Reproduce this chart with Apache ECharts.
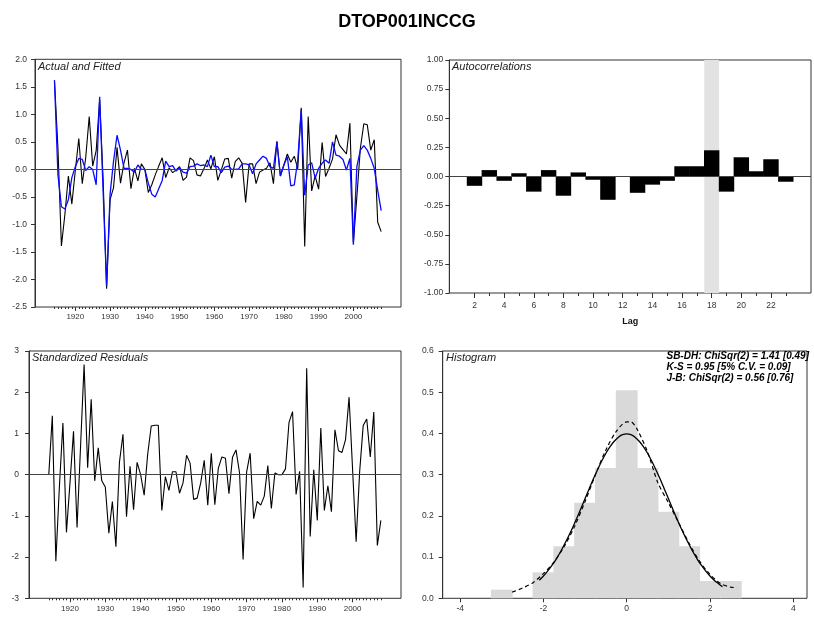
<!DOCTYPE html>
<html><head><meta charset="utf-8">
<script src="https://cdn.jsdelivr.net/npm/echarts@6/dist/echarts.min.js"></script>
<style>html,body{margin:0;padding:0;background:#fff}#c{width:814px;height:618px}</style>
</head><body><div id="c"></div>
<script>
// ---------- data ----------
const startYear = 1914;
const actual = [
 1.62, 0.39, -1.39, -0.82, -0.12, -0.63, -0.02, 0.56, -0.26, 0.22,
 0.96, 0.06, 0.34, 1.27, -0.18, -2.17, -0.55, -0.33, 0.40, -0.25,
 0.12, 0.35, -0.35, 0.02, -0.21, 0.10, 0.00, -0.42, -0.28, -0.10,
 0.06, 0.21, -0.15, 0.03, -0.06, -0.01, 0.05, -0.20, -0.14, 0.21,
 0.16, -0.10, -0.12, 0.01, 0.17, 0.01, 0.23, -0.20, -0.01, 0.19,
 0.20, -0.16, 0.14, 0.21, 0.11, -0.60, 0.10, 0.10, -0.26, -0.05,
 -0.01, 0.02, 0.12, -0.26, 0.51, -0.12, 0.08, 0.28, 0.13, 0.24,
 0.01, 1.12, -1.40, 0.96, -0.39, -0.12, -0.36, 0.49, -0.13, 0.02,
 0.19, 0.63, 0.44, 0.36, 0.28, 0.84, -1.33, -0.50, 0.38, 0.83,
 0.81, 0.35, 0.54, -0.96, -1.13];
const fitted = [
 1.62, -0.10, -0.68, -0.72, -0.55, -0.15, 0.05, 0.20, 0.18, -0.02,
 0.05, 0.00, -0.28, 1.32, -0.40, -2.12, -0.45, 0.15, 0.62, 0.35,
 0.02, 0.02, 0.00, -0.05, 0.08, 0.00, 0.00, -0.25, -0.45, -0.50,
 -0.35, -0.20, 0.15, 0.05, 0.07, -0.03, 0.03, -0.05, -0.07, 0.05,
 0.06, 0.10, 0.07, 0.08, 0.05, 0.26, 0.05, 0.05, -0.06, 0.04,
 0.06, 0.00, 0.00, 0.01, 0.10, 0.10, 0.08, -0.08, 0.10, 0.17,
 0.24, 0.20, 0.05, 0.02, 0.50, -0.12, 0.08, 0.23, -0.30, -0.28,
 0.17, 1.09, -0.47, 0.08, 0.12, -0.16, 0.02, 0.11, 0.17, 0.11,
 0.50, 0.26, 0.24, 0.18, -0.01, 0.20, -1.37, 0.05, 0.35, 0.43,
 0.35, 0.20, 0.02, -0.38, -0.75];
const residuals = [
 0.00, 1.43, -2.10, -0.30, 1.25, -1.40, -0.20, 1.05, -1.28, 0.70,
 2.67, 0.17, 1.83, -0.15, 0.65, -0.15, -0.30, -1.42, -0.65, -1.75,
 0.30, 0.98, -1.02, 0.20, -0.85, 0.30, 0.00, -0.50, 0.50, 1.18,
 1.20, 1.20, -0.87, -0.05, -0.38, 0.07, 0.07, -0.45, -0.20, 0.47,
 0.28, -0.60, -0.57, -0.20, 0.35, -0.74, 0.52, -0.73, 0.16, 0.43,
 0.40, -0.46, 0.42, 0.60, 0.04, -2.06, 0.06, 0.52, -1.07, -0.65,
 -0.74, -0.52, 0.22, -0.82, 0.04, 0.00, 0.00, 0.14, 1.27, 1.53,
 -0.48, 0.08, -2.74, 2.58, -1.50, 0.12, -1.11, 1.13, -0.87, -0.27,
 -0.90, 1.09, 0.58, 0.54, 0.85, 1.88, 0.12, -1.63, 0.08, 1.19,
 1.35, 0.43, 1.52, -1.72, -1.11];
const acfLags   = [2,3,4,5,6,7,8,9,10,11,12,13,14,15,16,17,18,19,20,21,22,23];
const acfValues = [-0.08,0.055,-0.037,0.028,-0.13,0.055,-0.165,0.035,-0.028,-0.20,0.0,-0.14,-0.07,-0.037,0.088,0.088,0.225,-0.13,0.165,0.045,0.148,-0.045];
const highlightLag = 18;
const histCenters = [-3,-2.5,-2,-1.5,-1,-0.5,0,0.5,1,1.5,2,2.5,3];
const histDensity = [0.021,0,0.063,0.126,0.232,0.316,0.505,0.316,0.21,0.126,0.042,0.042,0];
const histBinWidth = 0.5;
const normalX = [-2.1,-2.0,-1.9,-1.8,-1.7,-1.6,-1.5,-1.4,-1.3,-1.2,-1.1,-1.0,-0.9,-0.8,-0.7,-0.6,-0.5,-0.4,-0.3,-0.2,-0.1,0,0.1,0.2,0.3,0.4,0.5,0.6,0.7,0.8,0.9,1.0,1.1,1.2,1.3,1.4,1.5,1.6,1.7,1.8,1.9,2.0,2.1,2.2,2.3];
const normalY = [0.044,0.054,0.066,0.079,0.094,0.111,0.130,0.150,0.171,0.194,0.218,0.242,0.266,0.290,0.312,0.333,0.352,0.368,0.381,0.391,0.397,0.399,0.397,0.391,0.381,0.368,0.352,0.333,0.312,0.290,0.266,0.242,0.218,0.194,0.171,0.150,0.130,0.111,0.094,0.079,0.066,0.054,0.044,0.036,0.028];
const kernelX = [-2.75,-2.5,-2.25,-2.0,-1.75,-1.5,-1.25,-1.0,-0.75,-0.5,-0.25,0.0,0.1,0.25,0.5,0.75,1.0,1.25,1.5,1.75,2.0,2.25,2.5,2.65];
const kernelY = [0.015,0.025,0.038,0.060,0.088,0.126,0.175,0.235,0.300,0.360,0.405,0.428,0.428,0.410,0.355,0.280,0.232,0.183,0.133,0.090,0.058,0.036,0.027,0.026];
const decadeTicks = [1920,1930,1940,1950,1960,1970,1980,1990,2000];
const yearTicks = actual.map((_, i) => startYear + i);
const acfMajorTicks = [2,4,6,8,10,12,14,16,18,20,22];
const acfMinorTicks = [3,5,7,9,11,13,15,17,19,21,23];
const histTicks = [-4,-2,0,2,4];
const statsLines = ['SB-DH: ChiSqr(2) = 1.41 [0.49]','K-S = 0.95 [5% C.V. = 0.09]','J-B: ChiSqr(2) = 0.56 [0.76]'];

// ---------- chart ----------
const FONT = 'Liberation Sans, Arial, sans-serif';
const AX = '#333';
const years = yearTicks;
const pairs = (xs, ys) => xs.map((x, i) => [x, ys[i]]);

function timeX(grid, tickVals, len, labels) {
  return {
    type: 'value', gridIndex: grid, position: 'bottom', min: 1908.4, max: 2013.7,
    axisLine: {show: false, onZero: false}, splitLine: {show: false},
    axisTick: {show: true, length: len, customValues: tickVals, lineStyle: {color: AX, width: 1}},
    axisLabel: labels ? {show: true, customValues: tickVals, fontSize: 8, color: AX, margin: 6, fontFamily: FONT, formatter: v => String(v)} : {show: false}
  };
}
function yAx(grid, min, max, interval, dec, margin) {
  return {
    type: 'value', gridIndex: grid, position: 'left', min: min, max: max, interval: interval,
    axisLine: {show: true, onZero: false, lineStyle: {color: AX, width: 1}},
    axisTick: {show: true, length: 4, lineStyle: {color: AX}},
    splitLine: {show: false},
    axisLabel: {fontSize: 8.5, color: AX, margin: margin, fontFamily: FONT, formatter: v => Number(v).toFixed(dec)}
  };
}
const zeroLine = {silent: true, symbol: 'none', label: {show: false}, lineStyle: {color: '#444', width: 1, type: 'solid'}, data: [{yAxis: 0}], animation: false};

const rectRender = (halfW, color, pad) => function (params, api) {
  const x = api.value(0), v = api.value(1);
  const p0 = api.coord([x - halfW, 0]);
  const p1 = api.coord([x + halfW, v]);
  return {type: 'rect', shape: {x: p0[0] - pad, y: Math.min(p0[1], p1[1]), width: p1[0] - p0[0] + 2 * pad, height: Math.abs(p1[1] - p0[1])}, style: {fill: color}};
};

const gridBase = {show: true, borderColor: AX, borderWidth: 1, backgroundColor: 'transparent', containLabel: false};

const option = {
  animation: false,
  backgroundColor: '#fff',
  title: [
    {text: 'DTOP001INCCG', left: 'center', top: 8, textStyle: {fontFamily: FONT, fontSize: 18, fontWeight: 'bold', color: '#000'}}
  ],
  grid: [
    Object.assign({left: 35, top: 59.3, width: 366, height: 247.7}, gridBase),
    Object.assign({left: 449.3, top: 60, width: 361.7, height: 233}, gridBase),
    Object.assign({left: 29, top: 351, width: 372, height: 247.3}, gridBase),
    Object.assign({left: 442.7, top: 351, width: 364.3, height: 247.3}, gridBase)
  ],
  xAxis: [
    timeX(0, decadeTicks, 4, true),
    timeX(0, yearTicks, 2, false),
    {type: 'value', gridIndex: 1, position: 'bottom', min: 0.3, max: 24.7, axisLine: {show: false, onZero: false}, splitLine: {show: false},
     axisTick: {show: true, length: 5, customValues: acfMajorTicks, lineStyle: {color: AX}},
     axisLabel: {customValues: acfMajorTicks, fontSize: 8.5, color: AX, margin: 8, fontFamily: FONT},
     name: 'Lag', nameLocation: 'middle', nameGap: 24, nameTextStyle: {fontFamily: FONT, fontSize: 9, fontWeight: 'bold', color: '#111'}},
    {type: 'value', gridIndex: 1, position: 'bottom', min: 0.3, max: 24.7, axisLine: {show: false, onZero: false}, splitLine: {show: false},
     axisTick: {show: true, length: 3, customValues: acfMinorTicks, lineStyle: {color: AX}}, axisLabel: {show: false}},
    timeX(2, decadeTicks, 4, true),
    timeX(2, yearTicks, 2, false),
    {type: 'value', gridIndex: 3, position: 'bottom', min: -4.42, max: 4.33, axisLine: {show: false, onZero: false}, splitLine: {show: false},
     axisTick: {show: true, length: 4, customValues: histTicks, lineStyle: {color: AX}},
     axisLabel: {customValues: histTicks, fontSize: 8.5, color: AX, margin: 6, fontFamily: FONT}}
  ],
  yAxis: [
    yAx(0, -2.5, 2, 0.5, 1, 8),
    yAx(1, -1, 1, 0.25, 2, 6),
    yAx(2, -3, 3, 1, 0, 10),
    yAx(3, 0, 0.6, 0.1, 1, 9)
  ],
  series: [
    {type: 'line', xAxisIndex: 0, yAxisIndex: 0, data: pairs(years, actual), showSymbol: false, symbol: 'none',
     lineStyle: {color: '#000', width: 1.1}, z: 3, markLine: zeroLine},
    {type: 'line', xAxisIndex: 0, yAxisIndex: 0, data: pairs(years, fitted), showSymbol: false, symbol: 'none',
     lineStyle: {color: '#0a0aff', width: 1.3}, z: 4},
    {type: 'custom', xAxisIndex: 2, yAxisIndex: 1, data: [[highlightLag, 1], [highlightLag, -1]], renderItem: rectRender(0.5, '#e2e2e2', 0), z: 1, silent: true},
    {type: 'custom', xAxisIndex: 2, yAxisIndex: 1, data: pairs(acfLags, acfValues), renderItem: rectRender(0.5, '#000', 0.3), z: 3},
    {type: 'line', xAxisIndex: 2, yAxisIndex: 1, data: [], markLine: zeroLine, z: 4},
    {type: 'line', xAxisIndex: 4, yAxisIndex: 2, data: pairs(years, residuals), showSymbol: false, symbol: 'none',
     lineStyle: {color: '#000', width: 1.1}, z: 3, markLine: zeroLine},
    {type: 'custom', xAxisIndex: 6, yAxisIndex: 3, data: pairs(histCenters, histDensity), renderItem: rectRender(histBinWidth / 2, '#d9d9d9', 0.5), z: 1},
    {type: 'line', xAxisIndex: 6, yAxisIndex: 3, data: pairs(normalX, normalY), showSymbol: false, symbol: 'none', smooth: 0.3,
     lineStyle: {color: '#000', width: 1.3}, z: 3},
    {type: 'line', xAxisIndex: 6, yAxisIndex: 3, data: pairs(kernelX, kernelY), showSymbol: false, symbol: 'none', smooth: 0.3,
     lineStyle: {color: '#000', width: 1.2, type: [4, 3]}, z: 3}
  ],
  graphic: [
    {type: 'text', left: 38, top: 61, style: {text: 'Actual and Fitted', font: 'italic 11px ' + FONT, fill: '#222'}},
    {type: 'text', left: 452, top: 61, style: {text: 'Autocorrelations', font: 'italic 11px ' + FONT, fill: '#222'}},
    {type: 'text', left: 32, top: 352, style: {text: 'Standardized Residuals', font: 'italic 11px ' + FONT, fill: '#222'}},
    {type: 'text', left: 446, top: 352, style: {text: 'Histogram', font: 'italic 11px ' + FONT, fill: '#222'}},
    {type: 'text', right: 5, top: 351, style: {text: statsLines.join('\n'), font: 'italic bold 10px ' + FONT, lineHeight: 11, fill: '#000', align: 'right'}}
  ]
};
const chart = echarts.init(document.getElementById('c'), null, {renderer: 'canvas'});
chart.setOption(option);
</script></body></html>
